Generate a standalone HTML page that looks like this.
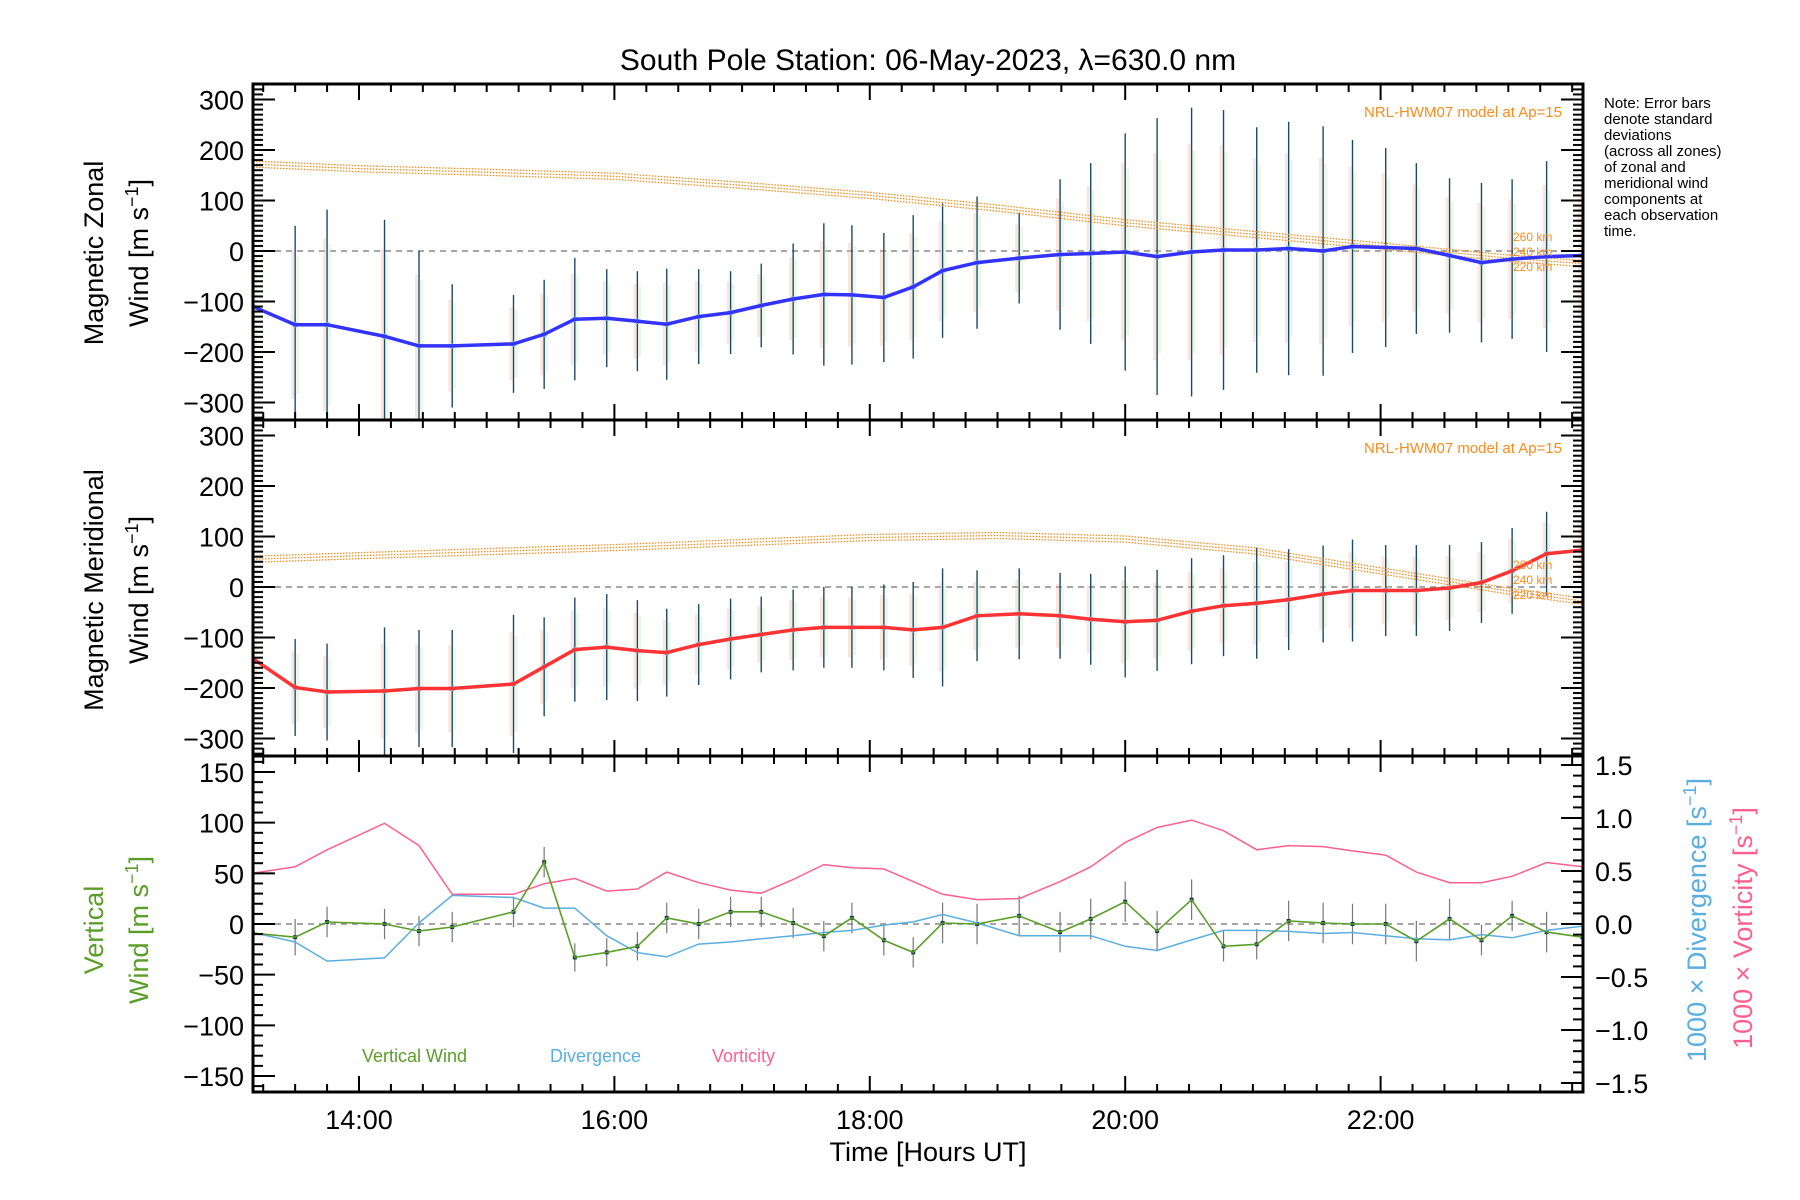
<!DOCTYPE html>
<html><head><meta charset="utf-8"><style>
html,body{margin:0;padding:0;background:#fff;}
svg{display:block;font-family:"Liberation Sans",sans-serif;}
</style></head><body>
<svg id="chart" width="1800" height="1200" viewBox="0 0 1800 1200" xmlns="http://www.w3.org/2000/svg">
<text x="928" y="70" font-size="30" text-anchor="middle">South Pole Station: 06-May-2023, λ=630.0 nm</text>
<g font-size="15" fill="#000">
<text x="1604" y="108">Note: Error bars</text><text x="1604" y="124">denote standard</text><text x="1604" y="140">deviations</text><text x="1604" y="156">(across all zones)</text><text x="1604" y="172">of zonal and</text><text x="1604" y="188">meridional wind</text><text x="1604" y="204">components at</text><text x="1604" y="220">each observation</text><text x="1604" y="236">time.</text>
</g>
<g id="plots"></g>
</svg>
<script>
// ---- data ----
const times = [13.17,13.50,13.75,14.20,14.47,14.73,15.21,15.45,15.69,15.94,16.18,16.41,16.66,16.91,17.15,17.40,17.64,17.86,18.11,18.34,18.57,18.84,19.17,19.49,19.73,20.00,20.25,20.52,20.77,21.03,21.28,21.55,21.78,22.04,22.28,22.54,22.79,23.03,23.30,23.58];
const zonal = [-110,-146,-146,-169,-188,-188,-184,-165,-135,-133,-139,-145,-130,-122,-108,-95,-86,-87,-92,-71,-39,-23,-14,-7,-5,-2,-11,-2,2,2,5,0,9,7,5,-9,-23,-16,-11,-9];
const zonalSd = [160,196,228,231,188,122,97,108,121,97,99,110,94,82,83,110,141,138,128,142,133,131,90,149,179,235,274,286,277,243,251,247,211,197,169,153,158,158,189,167];
const merid = [-142,-199,-208,-206,-201,-201,-192,-158,-124,-119,-126,-130,-114,-103,-94,-85,-80,-80,-80,-85,-80,-57,-53,-57,-64,-69,-66,-48,-37,-32,-25,-14,-7,-7,-7,-2,9,32,66,73];
const meridSd = [80,96,96,126,116,116,137,98,103,105,100,87,80,80,75,80,80,80,85,95,117,90,90,85,90,110,100,105,100,110,100,96,101,90,90,85,80,85,83,80];
const vert = [-9,-13,2,0,-7,-3,12,61,-33,-28,-22,6,0,12,12,1,-12,6,-16,-28,1,0,8,-8,5,22,-7,24,-22,-20,3,1,0,0,-17,5,-16,8,-8,-13];
const vertSd = [15,18,15,15,15,15,15,15,14,14,14,15,15,15,15,15,15,15,15,15,20,20,20,20,20,20,20,20,15,15,20,20,20,20,20,20,15,15,20,15];
const diverg = [-0.08,-0.17,-0.35,-0.32,0.01,0.27,0.25,0.15,0.15,-0.11,-0.27,-0.31,-0.19,-0.17,-0.14,-0.11,-0.08,-0.06,-0.01,0.02,0.09,0.01,-0.11,-0.11,-0.11,-0.21,-0.25,-0.15,-0.06,-0.06,-0.07,-0.09,-0.08,-0.11,-0.14,-0.15,-0.10,-0.13,-0.06,-0.02];
const vortic = [0.48,0.54,0.70,0.95,0.74,0.28,0.28,0.38,0.43,0.31,0.33,0.49,0.39,0.32,0.29,0.42,0.56,0.53,0.52,0.40,0.28,0.23,0.24,0.40,0.54,0.77,0.91,0.98,0.88,0.70,0.74,0.73,0.69,0.65,0.49,0.39,0.39,0.45,0.58,0.54];
const modelTimes = [13.17,14,15,16,17,18,19,20,21,22,23,23.58];
const modelZonal = [172,163,156,148,130,110,85,56,33,10,-14,-25];
const modelMerid = [55,62,70,78,88,98,102,95,72,32,-8,-28];
const xTicks = [14,16,18,20,22];
const xTickLabels = ["14:00","16:00","18:00","20:00","22:00"];
const windTicks = [300,200,100,0,-100,-200,-300];
const vertTicks = [150,100,50,0,-50,-100,-150];
const rightTicks = [1.5,1.0,0.5,0.0,-0.5,-1.0,-1.5];
const rightTickLabels = ["1.5","1.0","0.5","0.0","\u22120.5","\u22121.0","\u22121.5"];

// ---- axes ----
const L=253,R=1583,T0=13.17,T1=23.585;
const P=[[84,420],[420,756],[756,1092]];
const xs=t=>L+(t-T0)/(T1-T0)*(R-L);
const y1=v=>251-v*0.505, y2=v=>587-v*0.505, y3=v=>924-v*(152/150), y3r=v=>924-v*106;
const NS="http://www.w3.org/2000/svg";
const root=document.getElementById('plots');
function el(tag,attrs,parent){const e=document.createElementNS(NS,tag);for(const k in attrs)e.setAttribute(k,attrs[k]);(parent||root).appendChild(e);return e;}
const defs=el('defs',{});
P.forEach((p,i)=>{const c=el('clipPath',{id:'clip'+i},defs);el('rect',{x:L,y:p[0],width:R-L,height:p[1]-p[0]},c);});
const minus=s=>String(s).replace('-','\u2212');

function poly(arrT,arrV,yf,attrs,clip,name){
  const pts=arrT.map((t,i)=>xs(t).toFixed(1)+','+yf(arrV[i]).toFixed(1)).join(' ');
  const e=el('polyline',Object.assign({points:pts,fill:'none','clip-path':'url(#clip'+clip+')'},attrs));
  
  
  return e;
}
function windPanel(idx,vals,sds,yf,color,model,name,labOff){
  const g=el('g',{'clip-path':'url(#clip'+idx+')'});
  
  
  el('line',{x1:L,x2:R,y1:yf(0),y2:yf(0),stroke:'#888','stroke-width':1.5,'stroke-dasharray':'6,5'},g);
  times.forEach((t,i)=>{
    const b=el('rect',{x:xs(t)-4,y:yf(vals[i]+sds[i]*0.75),width:3,height:sds[i]*1.5*0.505,fill:'#f4b8a0',opacity:0.35},g);
    
    
    const b2=el('rect',{x:xs(t)+1,y:yf(vals[i]+sds[i]*0.7),width:3,height:sds[i]*1.4*0.505,fill:'#c8ecb8',opacity:0.35},g);
    
    
  });
  [-6,0,6].forEach(off=>{
    poly(modelTimes,model.map(v=>v+off),yf,{stroke:'#ff8a1c','stroke-width':1.3,'stroke-dasharray':'1.5,1.5'},idx,'hwm-model-curve');
  });
  times.forEach((t,i)=>{
    const e=el('line',{x1:xs(t),x2:xs(t),y1:yf(vals[i]+sds[i]),y2:yf(vals[i]-sds[i]),stroke:'#1a4a6a','stroke-width':1.4},g);
    
    
  });
  poly(times,vals,yf,{stroke:color,'stroke-width':3.5},idx,name+'-line');
  times.forEach((t,i)=>{
    const c=el('circle',{cx:xs(t),cy:yf(vals[i]),r:2.8,fill:'#6ab4e0'},g);
    
    
  });
  const top=P[idx][0];
  const lab=el('text',{x:1562,y:top+33,'font-size':15,fill:'#ff8a1c','text-anchor':'end'});
  lab.textContent='NRL-HWM07 model at Ap=15';
  
  
  const lastV=model[model.length-3];
  ['260 km','240 km','220 km'].forEach((s,k)=>{
    const t=el('text',{x:1513,y:yf(lastV)+(k-1)*15+4+labOff,'font-size':12,fill:'#ff8a1c'});
    t.textContent=s;
    
    
  });
}
windPanel(0,zonal,zonalSd,y1,'#3333ff',modelZonal,'zonal',6);
windPanel(1,merid,meridSd,y2,'#ff3333',modelMerid,'meridional',9);

// panel 3
(function(){
  const g=el('g',{'clip-path':'url(#clip2)'});
  
  
  el('line',{x1:L,x2:R,y1:y3(0),y2:y3(0),stroke:'#888','stroke-width':1.5,'stroke-dasharray':'6,5'},g);
  poly(times,vortic,y3r,{stroke:'#ff5f8f','stroke-width':1.5},2,'vorticity-line');
  poly(times,diverg,y3r,{stroke:'#5aaee0','stroke-width':1.5},2,'divergence-line');
  times.forEach((t,i)=>{
    const e=el('line',{x1:xs(t),x2:xs(t),y1:y3(vert[i]+vertSd[i]),y2:y3(vert[i]-vertSd[i]),stroke:'#777','stroke-width':1.2},g);
    
    
  });
  poly(times,vert,y3,{stroke:'#5a9e28','stroke-width':1.6},2,'vertical-wind-line');
  times.forEach((t,i)=>{
    const c=el('rect',{x:xs(t)-2,y:y3(vert[i])-2,width:4,height:4,fill:'#123a50'},g);
    
    
  });
  [['Vertical Wind','#5a9e28',362],['Divergence','#5aaee0',550],['Vorticity','#ff5f8f',712]].forEach(a=>{
    const t=el('text',{x:a[2],y:1062,'font-size':18,fill:a[1]});
    t.textContent=a[0];
    
    
  });
})();

const ax=el('g',{stroke:'#000','stroke-width':2});


P.forEach(p=>{
  el('rect',{x:L,y:p[0],width:R-L,height:p[1]-p[0],fill:'none','stroke-width':3},ax);
  for(let t=13.25;t<T1;t+=0.25){
    const maj=Math.abs(t-Math.round(t/2)*2)<1e-6;
    const len=maj?16:8, x=xs(t);
    el('line',{x1:x,x2:x,y1:p[0],y2:p[0]+len},ax);
    el('line',{x1:x,x2:x,y1:p[1],y2:p[1]-len},ax);
  }
});
function yTicks(yf,lo,hi,minorStep,majorStep,rightSide,top,bot){
  for(let v=Math.ceil(lo/minorStep)*minorStep;v<=hi;v+=minorStep){
    const y=yf(v); if(y<top-0.5||y>bot+0.5) continue;
    const maj=Math.abs(v/majorStep-Math.round(v/majorStep))<1e-6;
    const len=maj?22:10;
    if(rightSide) el('line',{x1:R-len,x2:R,y1:y,y2:y},ax);
    else el('line',{x1:L,x2:L+len,y1:y,y2:y},ax);
  }
}
yTicks(y1,-340,340,10,100,false,84,420); yTicks(y1,-340,340,10,100,true,84,420);
yTicks(y2,-340,340,10,100,false,420,756); yTicks(y2,-340,340,10,100,true,420,756);
yTicks(y3,-170,170,10,50,false,756,1092); yTicks(y3r,-1.6,1.6,0.1,0.5,true,756,1092);

function label(x,y,s,anchor,color,size,name){
  const t=el('text',{x:x,y:y,'font-size':size||27,'text-anchor':anchor||'end',fill:color||'#000'});
  t.textContent=s;
  
  
  return t;
}
windTicks.forEach(v=>{label(244,y1(v)+10,minus(v),'end','#000',27,'zonal-y-tick');label(244,y2(v)+10,minus(v),'end','#000',27,'meridional-y-tick');});
vertTicks.forEach(v=>label(244,y3(v)+10,minus(v),'end','#000',27,'vertical-y-tick'));
rightTicks.forEach((v,i)=>label(1595,y3r(v)+10,rightTickLabels[i],'start','#000',27,'right-y-tick'));
xTicks.forEach((t,i)=>label(xs(t),1129,xTickLabels[i],'middle','#000',27,'x-tick-label'));
label(928,1161,'Time [Hours UT]','middle','#000',27,'x-axis-title');

function rot(x,y,html,color,name){
  const t=el('text',{x:0,y:0,'font-size':27,'text-anchor':'middle',fill:color,transform:`translate(${x},${y}) rotate(-90)`});
  t.innerHTML=html;
  
  
}
const unit='Wind [m s<tspan dy="-10" font-size="18">\u22121</tspan><tspan dy="10">]</tspan>';
rot(103,253,'Magnetic Zonal','#000','zonal-y-title');
rot(148,253,unit,'#000','zonal-y-unit');
rot(103,590,'Magnetic Meridional','#000','meridional-y-title');
rot(148,590,unit,'#000','meridional-y-unit');
rot(103,930,'Vertical','#5a9e28','vertical-y-title');
rot(148,930,unit,'#5a9e28','vertical-y-unit');
rot(1706,920,'1000 × Divergence [s<tspan dy="-10" font-size="18">\u22121</tspan><tspan dy="10">]</tspan>','#5aaee0','divergence-axis-title');
rot(1752,928,'1000 × Vorticity [s<tspan dy="-10" font-size="18">\u22121</tspan><tspan dy="10">]</tspan>','#ff5f8f','vorticity-axis-title');
</script>
</body></html>
